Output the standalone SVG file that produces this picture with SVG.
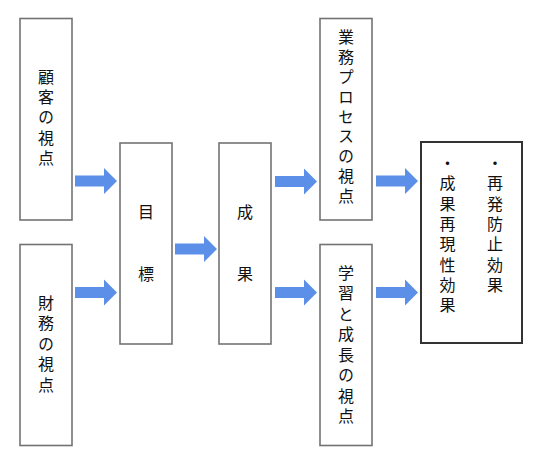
<svg xmlns="http://www.w3.org/2000/svg" width="538" height="462" viewBox="0 0 538 462">
<style>
.box{fill:#fff;stroke:#737373;stroke-width:1.6}
.box2{fill:#fff;stroke:#333;stroke-width:2}
.t{font-family:"Noto Sans CJK JP","Noto Sans CJK SC",sans-serif;font-size:16px;fill:#111;writing-mode:vertical-rl;text-anchor:start}
.arr{fill:#5b8fe8}
</style>
<defs>
<path id="arr" d="M0,-5.5 H29 V-13 L42,0 L29,13 V5.5 H0 Z"/>
</defs>
<rect width="538" height="462" fill="#fff"/>
<g id="connectors" class="arr">
<use href="#arr" x="75" y="181"/>
<use href="#arr" x="75" y="292.5"/>
<use href="#arr" x="175" y="249"/>
<use href="#arr" x="275" y="181.5"/>
<use href="#arr" x="376" y="181"/>
<use href="#arr" x="275" y="292.5"/>
<use href="#arr" x="376" y="292.5"/>
</g>
<g id="customer">
<rect class="box" x="20" y="18.5" width="52" height="201.5"/>
<text class="t" x="46" y="69" style="letter-spacing:4.2px">顧客の視点</text>
</g>
<g id="finance">
<rect class="box" x="20" y="244.5" width="52" height="201"/>
<text class="t" x="46" y="295" style="letter-spacing:4.4px">財務の視点</text>
</g>
<g id="goal">
<rect class="box" x="120" y="143" width="52" height="201"/>
<text class="t" x="146" y="203.7" style="letter-spacing:46px">目標</text>
</g>
<g id="result">
<rect class="box" x="219" y="143" width="52" height="201"/>
<text class="t" x="245" y="203.7" style="letter-spacing:46px">成果</text>
</g>
<g id="process">
<rect class="box" x="320" y="18.5" width="52" height="201.5"/>
<text class="t" x="346" y="29.3" style="letter-spacing:3.8px">業務プロセスの視点</text>
</g>
<g id="learning">
<rect class="box" x="320" y="244.5" width="52" height="201"/>
<text class="t" x="346" y="264.7" style="letter-spacing:4.5px">学習と成長の視点</text>
</g>
<g id="effects">
<rect class="box2" x="421" y="142" width="101" height="201"/>
<text class="t" x="447.5" y="155" style="letter-spacing:4.3px">・成果再現性効果</text>
<text class="t" x="495" y="155" style="letter-spacing:4.3px">・再発防止効果</text>
</g>
</svg>
